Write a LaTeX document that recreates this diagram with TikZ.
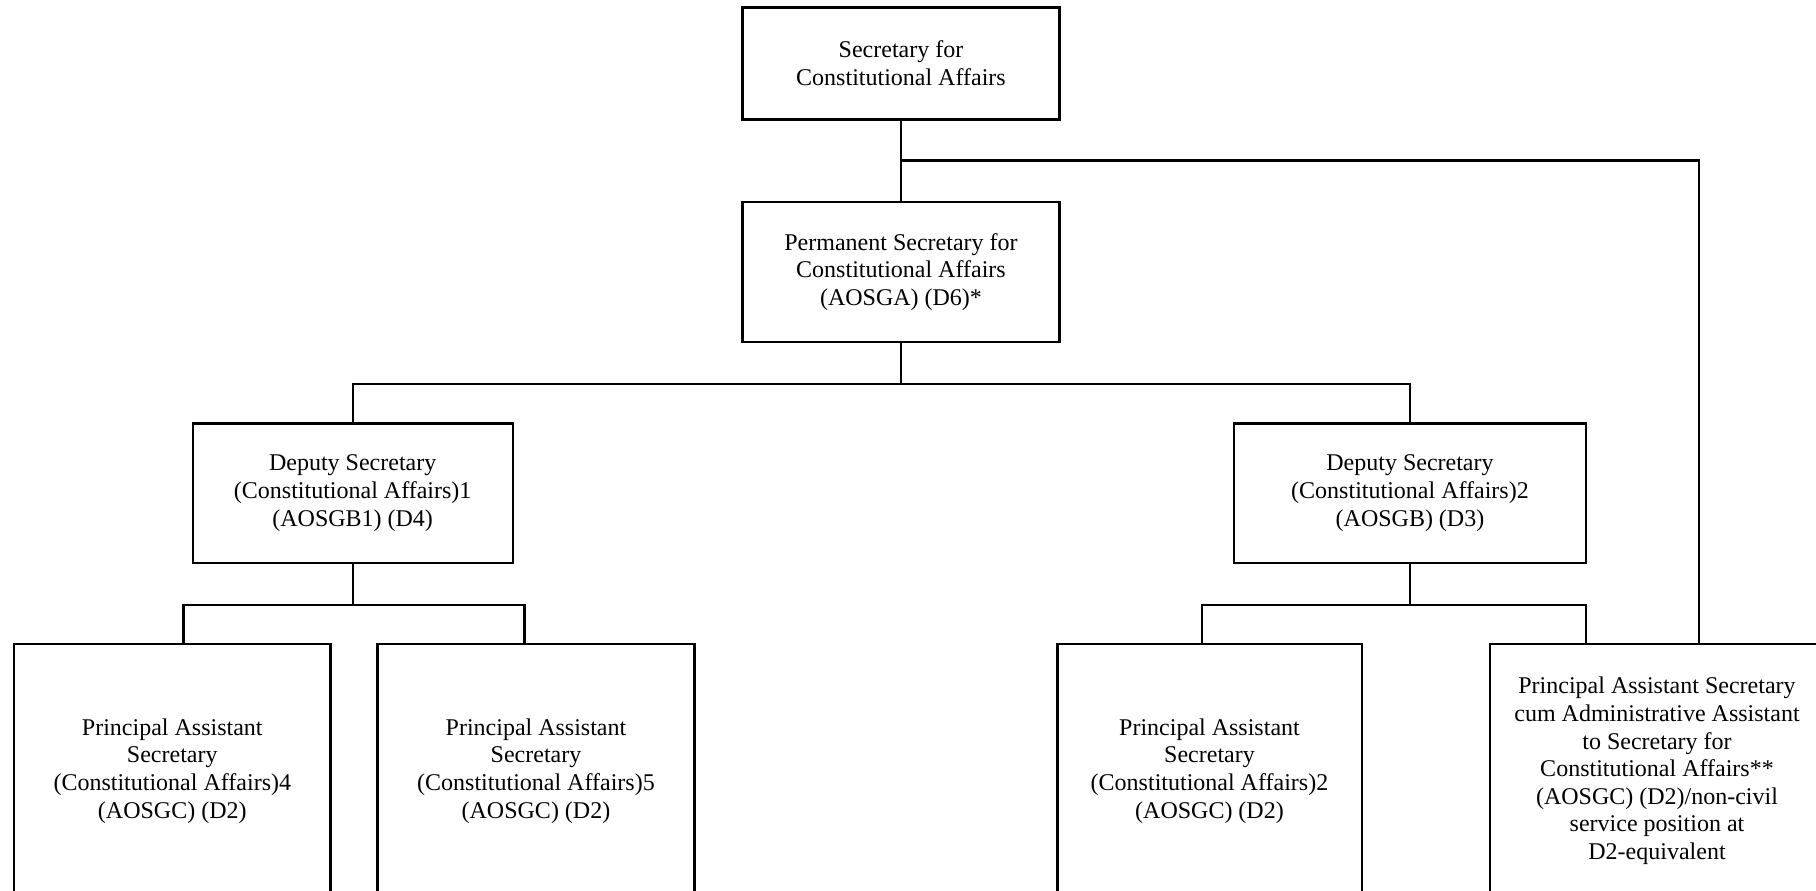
\documentclass[tikz,border=0pt]{standalone}
\usepackage{fontspec}
\setmainfont{Liberation Serif}
\usetikzlibrary{calc}
\tikzset{
	post/.style={draw, line width=1.2pt, inner sep=0pt, align=center, font=\fontsize{12}{13.8}\selectfont},
	link/.style={line width=1.2pt}
}
\begin{document}
\begin{tikzpicture}[x=0.5pt,y=-0.5pt]
		\useasboundingbox (0,0) rectangle (1816,890);
		\clip (0,0) rectangle (1816,890);
		\node[post, minimum width=158.5pt, minimum height=56pt] (sec) at (901,63.3) {Secretary for\\Constitutional Affairs};
		\node[post, minimum width=158.5pt, minimum height=70pt] (perm) at (901,271.7) {Permanent Secretary for\\Constitutional Affairs\\(AOSGA) (D6)*};
		\node[post, minimum width=160pt, minimum height=69.7pt] (dep1) at (352.7,493) {Deputy Secretary\\(Constitutional Affairs)1\\(AOSGB1) (D4)};
		\node[post, minimum width=176pt, minimum height=69.7pt] (dep2) at (1410,493) {Deputy Secretary\\(Constitutional Affairs)2\\(AOSGB) (D3)};
		\node[post, minimum width=158.35pt, minimum height=127pt] (pas4) at (172.3,771) {Principal Assistant\\Secretary\\(Constitutional Affairs)4\\(AOSGC) (D2)};
		\node[post, minimum width=158.5pt, minimum height=127pt] (pas5) at (536,771) {Principal Assistant\\Secretary\\(Constitutional Affairs)5\\(AOSGC) (D2)};
		\node[post, minimum width=152.2pt, minimum height=127pt] (pas2) at (1209.5,771) {Principal Assistant\\Secretary\\(Constitutional Affairs)2\\(AOSGC) (D2)};
		\node[post, minimum width=167pt, minimum height=127pt] (pasa) at (1657,771) {Principal Assistant Secretary\\cum Administrative Assistant\\to Secretary for\\Constitutional Affairs**\\(AOSGC) (D2)/non-civil\\service position at\\D2-equivalent};
		\coordinate (j0) at ($(sec.south)!0.5!(perm.north)$);
		\draw[link] (sec) -- (perm);
		\draw[link] (j0) -| ([xshift=21pt]pasa.north);
		\draw[link] (perm.south) -- ++(0,41) coordinate (j1);
		\draw[link] (dep1.north) |- (j1) -| (dep2.north);
		\draw[link] (dep1.south) -- ++(0,41.3) coordinate (j2);
		\draw[link] ([xshift=5.5pt]pas4.north) |- (j2) -| ([xshift=-5.75pt]pas5.north);
		\draw[link] (dep2.south) -- ++(0,41.3) coordinate (j3);
		\draw[link] ([xshift=-3.75pt]pas2.north) |- (j3) -| ([xshift=-35.5pt]pasa.north);
\end{tikzpicture}
\end{document}
